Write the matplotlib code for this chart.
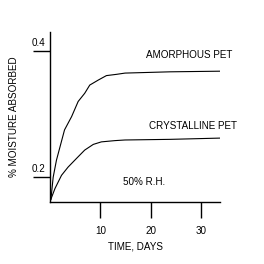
import matplotlib
matplotlib.use("Agg")
import matplotlib.pyplot as plt

plt.rcParams['font.family'] = ['Liberation Sans', 'DejaVu Sans']

# 데이터
amorphous_days = [0, 0.2, 0.65, 1.3, 2.0, 2.9, 4.3, 5.6, 6.9, 7.9, 9.6, 11.2, 13.2, 14.9, 23.8, 33.8]
amorphous_vals = [0.161, 0.165, 0.200, 0.227, 0.248, 0.275, 0.296, 0.320, 0.333, 0.346, 0.354, 0.361, 0.363, 0.365, 0.367, 0.368]

crystal_days = [0, 1.0, 2.3, 3.6, 5.3, 6.9, 8.6, 10.2, 12.9, 14.9, 23.8, 33.8]
crystal_vals = [0.161, 0.182, 0.203, 0.216, 0.230, 0.243, 0.252, 0.256, 0.258, 0.259, 0.260, 0.262]

x_ticks = [10, 20, 30]
y_ticks = [0.2, 0.4]
y_tick_labels = ["0.2", "0.4"]

fs = 7.1

fig = plt.figure(figsize=(2.64, 2.64), dpi=100)
ax = fig.add_axes([0.189, 0.235, 0.646, 0.645])

ax.plot(amorphous_days, amorphous_vals, color='black', lw=0.8)
ax.plot(crystal_days, crystal_vals, color='black', lw=0.8)

ax.set_xlim(0, 33.8)
ax.set_ylim(0.1608, 0.4306)

for s in ['top', 'right']:
    ax.spines[s].set_visible(False)
for s in ['left', 'bottom']:
    ax.spines[s].set_linewidth(1.0)

ax.set_xticks(x_ticks)
ax.set_xticklabels([str(t) for t in x_ticks], fontsize=fs)
ax.tick_params(axis='x', direction='out', length=11.5, width=1.0, pad=5.5)

ax.set_yticks(y_ticks)
ax.set_yticklabels([])
ax.tick_params(axis='y', direction='out', length=12.2, width=1.0)
for v, lab in zip(y_ticks, y_tick_labels):
    ax.annotate(lab, xy=(0, v), xycoords=('axes fraction', 'data'),
                xytext=(-8.5, 2), textcoords='offset points',
                ha='center', va='bottom', fontsize=fs)

ax.set_xlabel("TIME, DAYS", fontsize=fs, labelpad=4)
ax.set_ylabel("% MOISTURE ABSORBED", fontsize=fs, labelpad=6.5)

ax.text(27.6, 0.3937, "AMORPHOUS PET", ha='center', va='center', fontsize=fs)
ax.text(28.3, 0.281, "CRYSTALLINE PET", ha='center', va='center', fontsize=fs)
ax.text(18.6, 0.192, "50% R.H.", ha='center', va='center', fontsize=fs)

fig.savefig("out.png", dpi=100)
